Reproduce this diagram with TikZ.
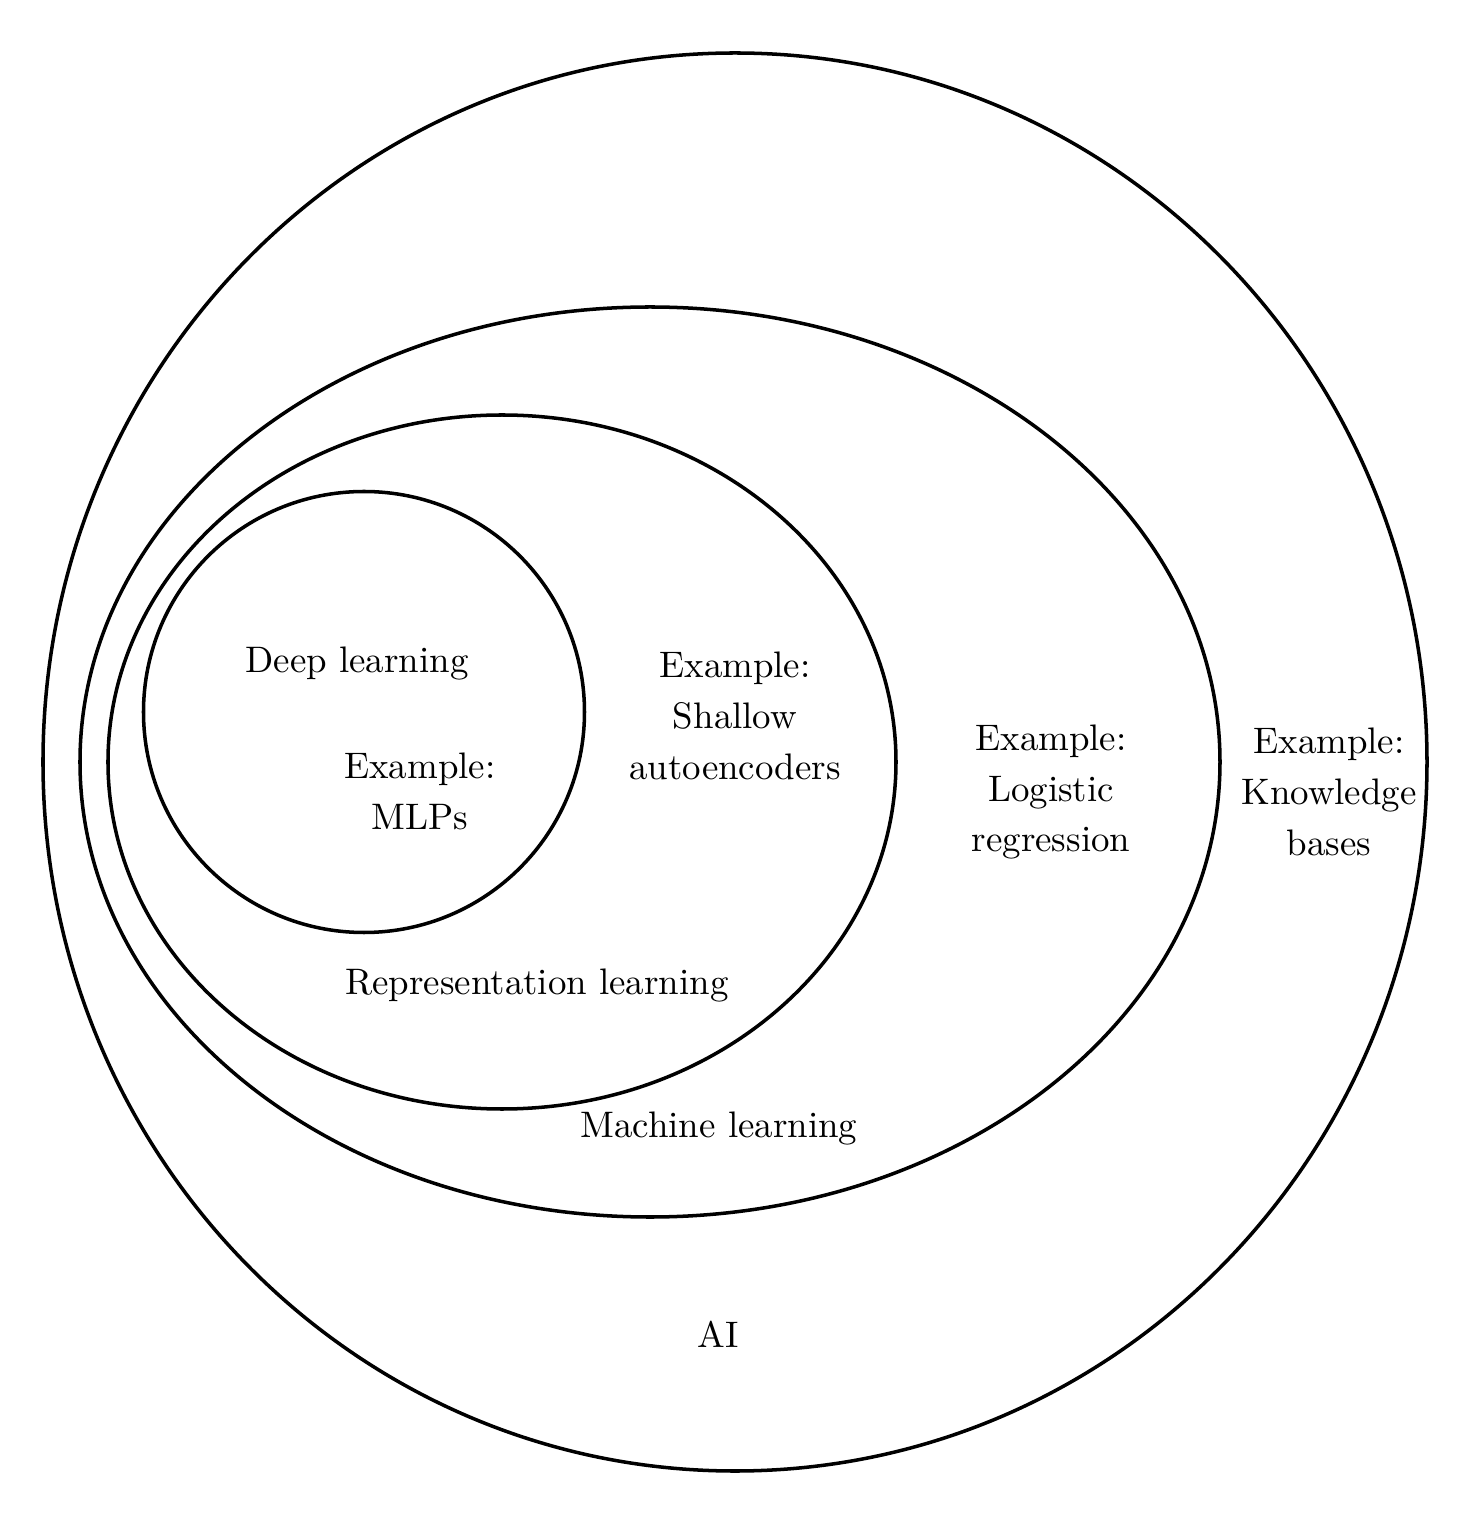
\documentclass[tikz,border=0pt]{standalone}
\usepackage{tikz}
\usetikzlibrary{positioning}

\begin{document}
\begin{tikzpicture}[
  set/.style={draw, line width=2pt},
  lbl/.style={align=center, font=\fontsize{10}{13.8}\selectfont,
              scale=2.1, transform shape},
]
\useasboundingbox (-14.70,-15.28) rectangle (14.88,15.24);

% ---- sets ----
\draw[set] (0,0)        ellipse [x radius=13.84, y radius=14.18];
\draw[set] (-1.70,0)    ellipse [x radius=11.40, y radius=9.10];
\draw[set] (-4.66,0)    ellipse [x radius=7.88,  y radius=6.94];
\draw[set] (-7.42,1.00) circle  [radius=4.41];

% ---- labels ----
\node[lbl] (dl)     at (-7.56,1.96)   {Deep learning};
\node[lbl] (mlp)    at (-6.30,-0.58)  {Example:\\MLPs};
\node[lbl] (shallow) at (0,0.92)      {Example:\\Shallow\\autoencoders};
\node[lbl] (rl)     at (-3.96,-4.46)  {Representation learning};
\node[lbl] (logreg) at (6.32,-0.60)   {Example:\\Logistic\\regression};
\node[lbl] (ml)     at (-0.32,-7.32)  {Machine learning};
\node[lbl] (kb)     at (11.88,-0.60)  {Example:\\Knowledge\\bases};
\node[lbl] (ai)     at (-0.34,-11.44) {AI};

\end{tikzpicture}
\end{document}
